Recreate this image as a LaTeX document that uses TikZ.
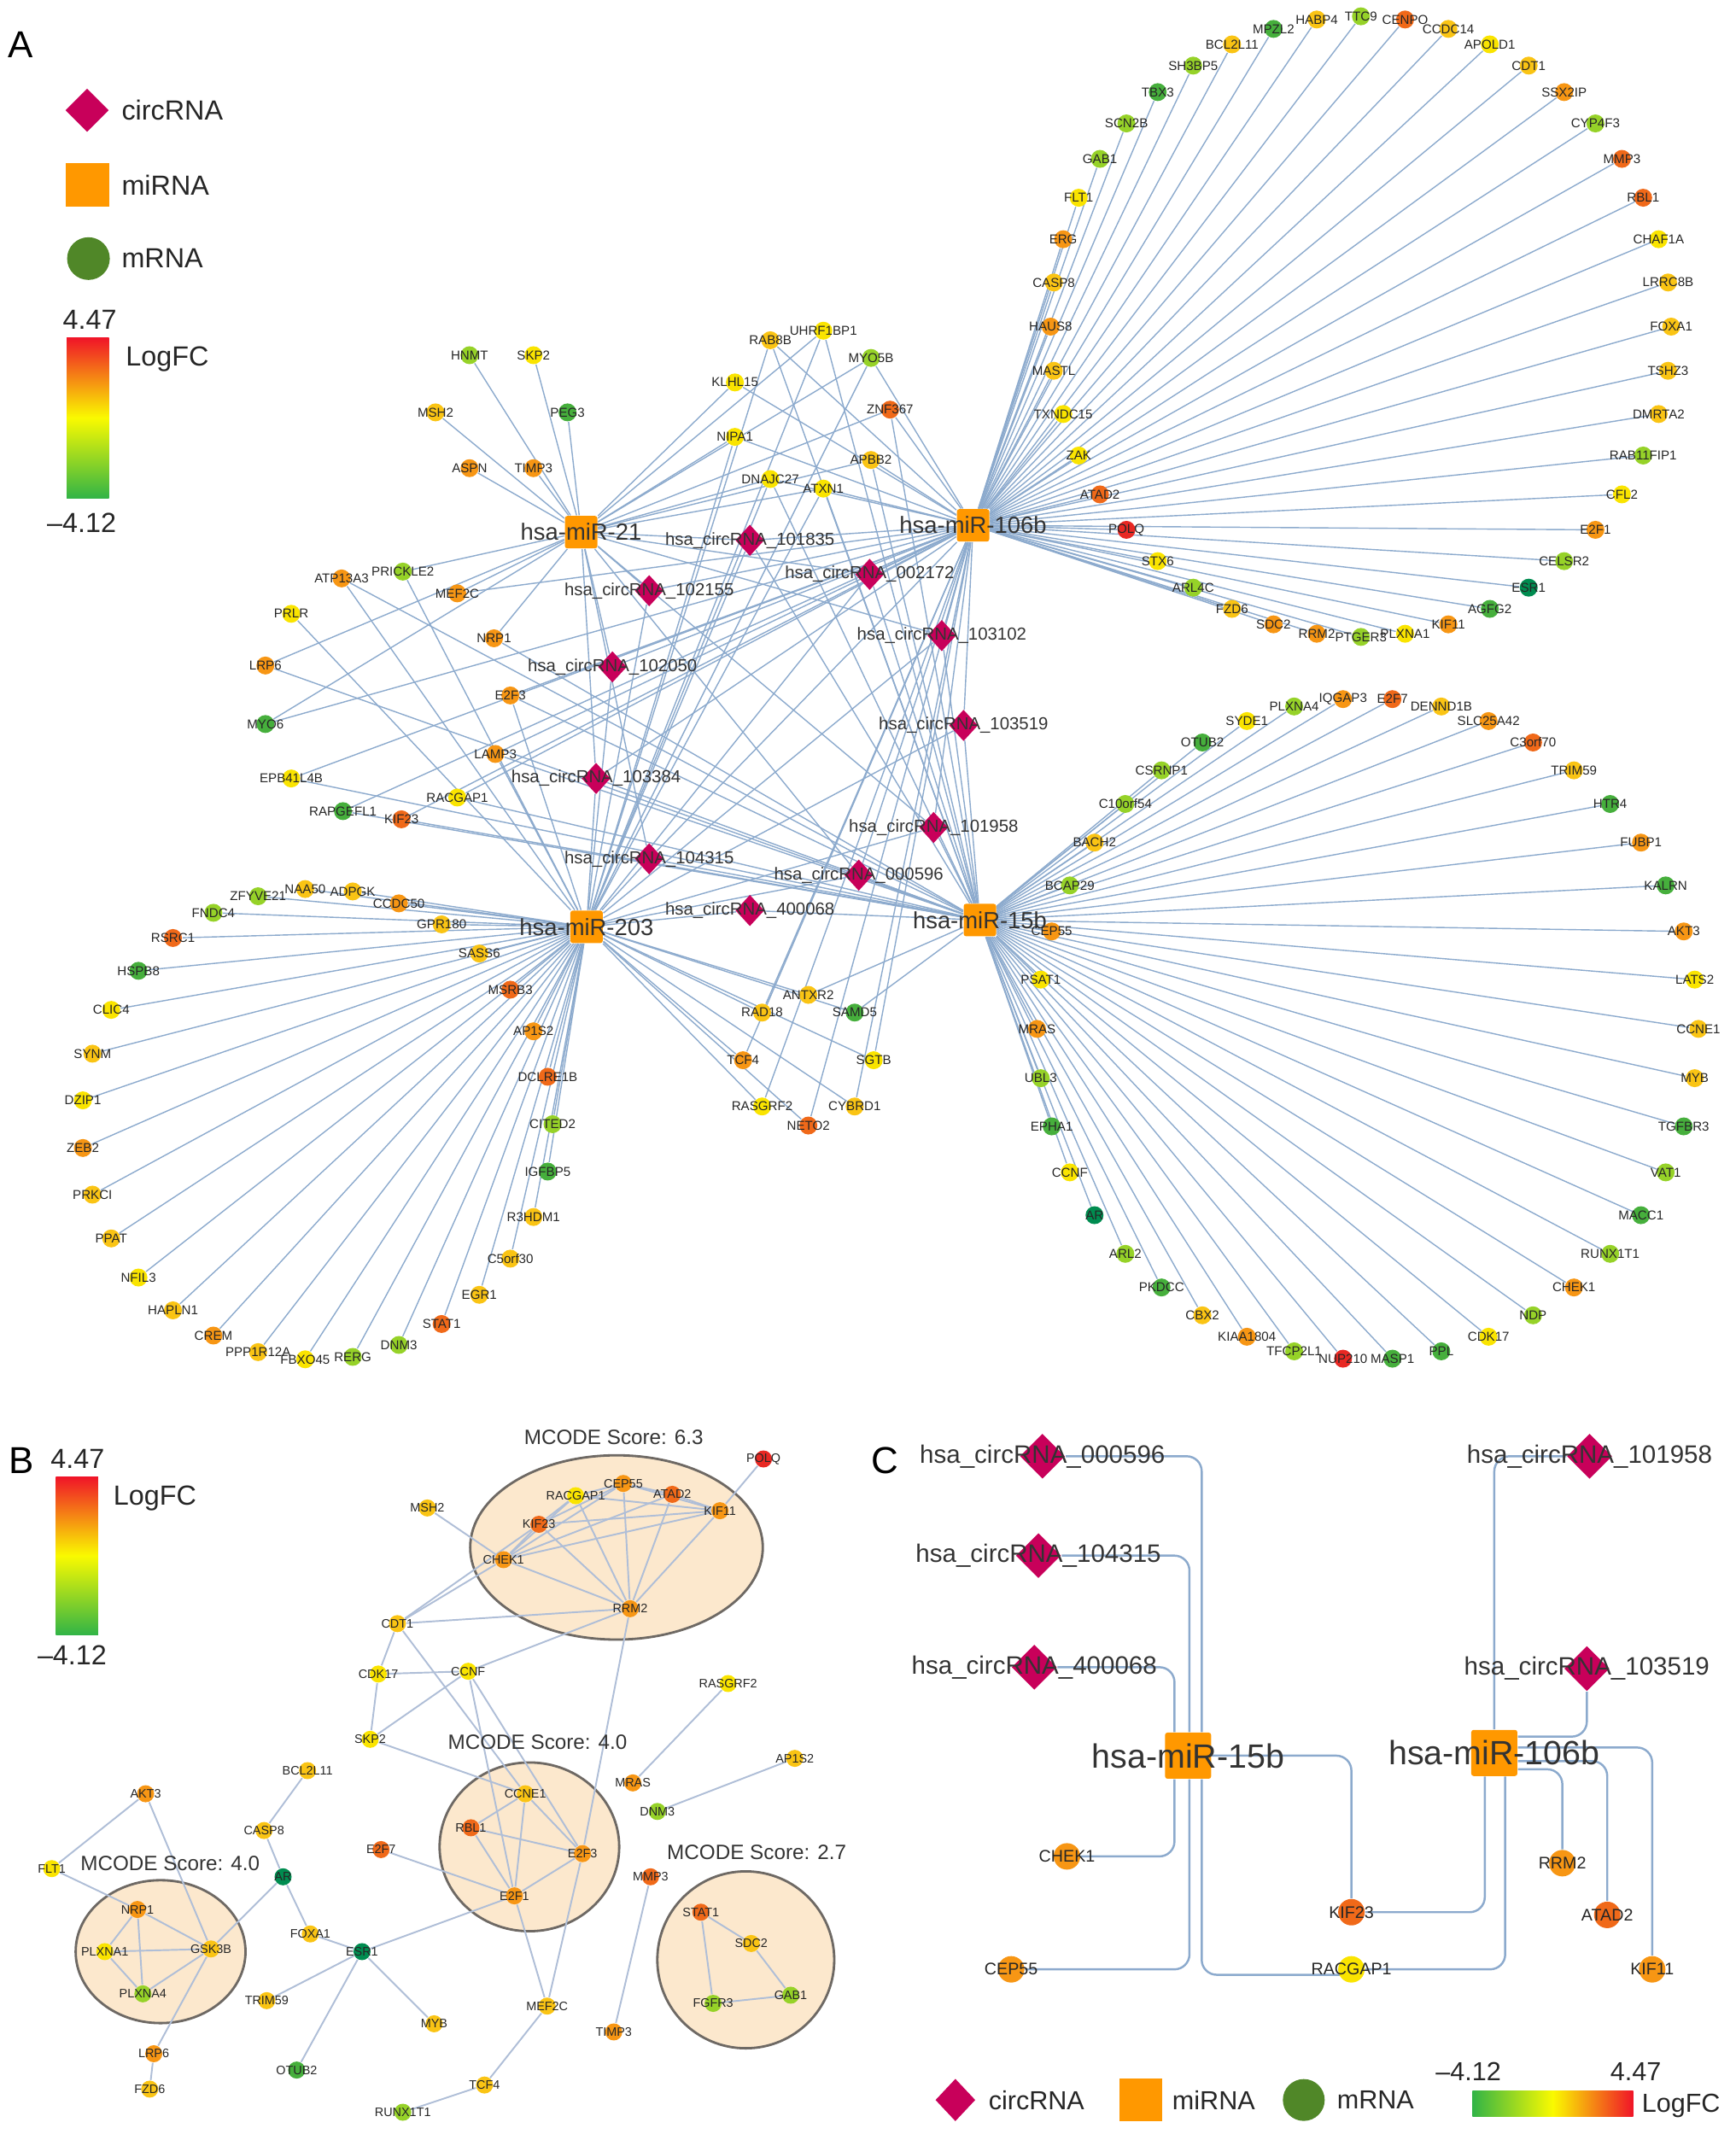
\documentclass[tikz,border=0pt]{standalone}
\usepackage{fontspec}
\setmainfont{Liberation Sans}
\usetikzlibrary{shapes.geometric,calc}
\pgfdeclarelayer{back}\pgfdeclarelayer{links}
\pgfsetlayers{back,links,main}
\definecolor{cD}{RGB}{0,140,80}
\definecolor{cG}{RGB}{70,175,60}
\definecolor{cL}{RGB}{150,210,40}
\definecolor{cY}{RGB}{250,228,0}
\definecolor{cA}{RGB}{250,196,20}
\definecolor{cO}{RGB}{247,150,20}
\definecolor{cT}{RGB}{240,105,25}
\definecolor{cR}{RGB}{232,40,35}
\definecolor{barR}{RGB}{240,20,40}
\definecolor{barY}{RGB}{250,250,0}
\definecolor{barG}{RGB}{50,180,70}
\definecolor{mircol}{RGB}{255,152,0}
\definecolor{circcol}{RGB}{200,0,90}
\definecolor{legcol}{RGB}{80,135,40}
\definecolor{edgecol}{RGB}{140,170,205}
\definecolor{pedgecol}{RGB}{175,190,215}
\definecolor{clustfill}{RGB}{252,232,205}
\definecolor{clustdraw}{RGB}{110,105,100}
\tikzset{
  netlink/.style={draw=edgecol, line width=0.4pt},
  ppilink/.style={draw=pedgecol, line width=0.55pt},
  clink/.style={draw=edgecol, line width=0.7pt, rounded corners=5pt},
  mrna/.style={circle, inner sep=0pt, minimum size=2.1mm},
  glab/.style={font=\fontsize{4.3}{5}\selectfont, text=black!85, inner sep=0pt},
  mirna/.style={rectangle, rounded corners=0.8pt, fill=mircol, inner sep=0pt, minimum size=3.8mm},
  circ/.style={diamond, fill=circcol, inner sep=0pt, minimum width=3.4mm, minimum height=3.7mm},
  hublab/.style={font=\fontsize{7.8}{9}\selectfont, text=black!80, inner sep=0pt},
  circlab/.style={font=\fontsize{5.8}{7}\selectfont, text=black!80, inner sep=0pt},
  panel/.style={font=\fontsize{12.5}{14}\selectfont, inner sep=0pt},
  legtext/.style={font=\fontsize{9.2}{11}\selectfont, text=black!85, inner sep=0pt},
  score/.style={font=\fontsize{6.9}{8}\selectfont, text=black!80, inner sep=0pt},
  cluster/.style={fill=clustfill, draw=clustdraw, line width=0.8pt},
  vbar/.style={top color=barR, bottom color=barG, middle color=barY},
  hbar/.style={left color=barG, right color=barR, middle color=barY},
}
\begin{document}
\begin{tikzpicture}[x=0.159375mm, y=-0.159375mm]
\useasboundingbox (0,0) rectangle (1275,1568);
% ---------------- panel A
\node[panel] at (15,33) {A};
\node[diamond, fill=circcol, inner sep=0pt, minimum size=5.1mm] (legAc) at (64,81) {};
\node[legtext, anchor=west] at (89,81) {circRNA};
\node[fill=mircol, inner sep=0pt, minimum size=5.1mm] (legAm) at (64,136) {};
\node[legtext, anchor=west] at (89,136) {miRNA};
\node[circle, fill=legcol, inner sep=0pt, minimum size=5mm] (legAg) at (65,190) {};
\node[legtext, anchor=west] at (89,190) {mRNA};
\shade[vbar] (49,248) rectangle (80,366);
\node[legtext] at (66,235) {4.47};
\node[legtext, anchor=west] at (92,264) {LogFC};
\node[legtext] at (60,384) {--4.12};

\node[mirna, label={[hublab]center:hsa-miR-21}] (m21) at (427,391) {};
\node[mirna, label={[hublab]center:hsa-miR-106b}] (m106b) at (715,386) {};
\node[mirna, label={[hublab]center:hsa-miR-203}] (m203) at (431,681) {};
\node[mirna, label={[hublab]center:hsa-miR-15b}] (m15b) at (720,676) {};

% rings of targets
\coordinate (o106b) at (1000,240);
\foreach \g/\c [count=\i from 0] in {TTC9/L,CENPO/T,CCDC14/A,APOLD1/Y,CDT1/A,SSX2IP/O,CYP4F3/L,MMP3/T,RBL1/T,CHAF1A/Y,LRRC8B/A,FOXA1/A,TSHZ3/A,DMRTA2/A,RAB11FIP1/L,CFL2/Y,E2F1/O,CELSR2/L,ESR1/D,AGFG2/G,KIF11/O,PLXNA1/Y,PTGER3/L,RRM2/O,SDC2/O,FZD6/A,ARL4C/L,STX6/Y,POLQ/R,ATAD2/T,ZAK/Y,TXNDC15/Y,MASTL/A,HAUS8/O,CASP8/A,ERG/O,FLT1/Y,GAB1/L,SCN2B/L,TBX3/G,SH3BP5/L,BCL2L11/A,MPZL2/G,HABP4/A}{
  \pgfmathsetmacro\ang{-90+\i*360/44}
  \node[mrna, fill=c\c, label={[glab]center:\g}] (a-\g) at ($(o106b)+(\ang:228)$) {};
  \begin{pgfonlayer}{links}\draw[netlink] (m106b) -- (a-\g);\end{pgfonlayer}
}
\coordinate (o15b) at (1005,756);
\foreach \g/\c [count=\i from 0] in {E2F7/T,DENND1B/A,SLC25A42/O,C3orf70/T,TRIM59/A,HTR4/G,FUBP1/O,KALRN/G,AKT3/O,LATS2/Y,CCNE1/A,MYB/A,TGFBR3/G,VAT1/L,MACC1/G,RUNX1T1/L,CHEK1/O,NDP/L,CDK17/Y,PPL/G,MASP1/G,NUP210/R,TFCP2L1/L,KIAA1804/O,CBX2/A,PKDCC/G,ARL2/L,AR/D,CCNF/Y,EPHA1/G,UBL3/L,MRAS/O,PSAT1/Y,CEP55/O,BCAP29/L,BACH2/A,C10orf54/L,CSRNP1/L,OTUB2/G,SYDE1/Y,PLXNA4/L,IQGAP3/O}{
  \pgfmathsetmacro\ang{-85.714+\i*360/42}
  \node[mrna, fill=c\c, label={[glab]center:\g}] (a-\g) at ($(o15b)+(\ang:243)$) {};
  \begin{pgfonlayer}{links}\draw[netlink] (m15b) -- (a-\g);\end{pgfonlayer}
}
\coordinate (o203) at (233,826);
\foreach \g/\c [count=\i from 0] in {CITED2/L,IGFBP5/G,R3HDM1/A,C5orf30/A,EGR1/A,STAT1/T,DNM3/L,RERG/L,FBXO45/Y,PPP1R12A/A,CREM/O,HAPLN1/A,NFIL3/Y,PPAT/A,PRKCI/A,ZEB2/O,DZIP1/Y,SYNM/A,CLIC4/Y,HSPB8/G,RSRC1/T,FNDC4/L,ZFYVE21/L,NAA50/A,ADPGK/A,CCDC50/O,GPR180/A,SASS6/A,MSRB3/T,AP1S2/O,DCLRE1B/T}{
  \pgfmathsetmacro\ang{\i*360/31}
  \node[mrna, fill=c\c, label={[glab]center:\g}] (a-\g) at ($(o203)+(\ang:173)$) {};
  \begin{pgfonlayer}{links}\draw[netlink] (m203) -- (a-\g);\end{pgfonlayer}
}

% shared targets in the middle
\foreach \g/\x/\y/\c in {HNMT/345/261/L,SKP2/392/261/Y,MSH2/320/303/A,PEG3/417/303/G,ASPN/345/344/O,TIMP3/392/344/O,
  RAB8B/566/250/A,UHRF1BP1/605/243/Y,MYO5B/640/263/L,KLHL15/540/281/Y,ZNF367/654/301/T,NIPA1/540/321/Y,APBB2/640/338/A,DNAJC27/566/352/Y,ATXN1/605/359/Y,
  ATP13A3/251/425/O,PRICKLE2/296/420/L,MEF2C/336/436/O,PRLR/214/451/Y,NRP1/363/469/O,LRP6/195/489/O,E2F3/375/511/O,MYO6/195/532/G,LAMP3/364/554/O,EPB41L4B/214/572/Y,RACGAP1/336/586/Y,RAPGEFL1/252/596/G,KIF23/295/602/T,
  ANTXR2/594/731/A,RAD18/560/744/A,SAMD5/628/744/G,TCF4/546/779/O,SGTB/642/779/Y,RASGRF2/560/813/Y,CYBRD1/628/813/A,NETO2/594/827/T}
  \node[mrna, fill=c\c, label={[glab]center:\g}] (a-\g) at (\x,\y) {};

\foreach \id/\x/\y in {101835/551/397,102155/477/434,002172/639/422,103102/692/467,102050/450/490,103519/708/533,103384/438/572,101958/686/608,104315/477/631,000596/631/643,400068/551/669}
  \node[circ, label={[circlab]center:hsa\_circRNA\_\id}] (c\id) at (\x,\y) {};

\begin{pgfonlayer}{links}
\foreach \h/\lst in {m21/{HNMT,SKP2,MSH2,PEG3,ASPN,TIMP3,KLHL15,NIPA1,MYO5B,ZNF367,APBB2,DNAJC27,UHRF1BP1,PRICKLE2,MEF2C,NRP1,LRP6,MYO6,ATXN1},
  m106b/{RAB8B,KLHL15,NIPA1,MYO5B,ZNF367,APBB2,DNAJC27,ATXN1,MEF2C,E2F3,LAMP3,MYO6,EPB41L4B,RACGAP1,RAPGEFL1,KIF23,RAD18,TCF4,RASGRF2,NETO2,CYBRD1,SGTB},
  m203/{RAB8B,UHRF1BP1,NIPA1,DNAJC27,ATXN1,PRICKLE2,PRLR,E2F3,LAMP3,ATP13A3,ANTXR2,RAD18,SAMD5,TCF4,SGTB,RASGRF2,NETO2,CYBRD1,MYO5B},
  m15b/{RAB8B,UHRF1BP1,ZNF367,APBB2,DNAJC27,ATXN1,ATP13A3,NRP1,LRP6,E2F3,LAMP3,EPB41L4B,RACGAP1,RAPGEFL1,KIF23,SAMD5,ANTXR2}}
  \foreach \g in \lst \draw[netlink] (\h) -- (a-\g);
\foreach \h/\lst in {m21/{101835,102155,002172,103102,102050,103384,101958,104315,000596},
  m106b/{101835,102155,002172,103102,102050,103519,103384,101958,104315,000596},
  m203/{101835,102155,002172,103102,102050,103519,103384,101958,104315,000596,400068},
  m15b/{101835,002172,103102,103519,103384,101958,104315,000596,400068}}
  \foreach \id in \lst \draw[netlink] (\h) -- (c\id);
\end{pgfonlayer}

% ---------------- panel B
\node[panel] at (16,1073) {B};
\shade[vbar] (41,1085) rectangle (72,1201);
\node[legtext] at (57,1072) {4.47};
\node[legtext, anchor=west] at (83,1101) {LogFC};
\node[legtext] at (53,1216) {--4.12};
\begin{pgfonlayer}{back}
\draw[cluster] (453,1137) ellipse [x radius=107.5, y radius=67.7];
\draw[cluster] (389,1357) ellipse [x radius=66, y radius=62];
\draw[cluster] (548,1440) ellipse [x radius=65, y radius=65];
\draw[cluster] (118,1434) ellipse [x radius=62.4, y radius=52.5];
\end{pgfonlayer}
\node[score] at (451,1056) {MCODE Score: 6.3};
\node[score] at (395,1280) {MCODE Score: 4.0};
\node[score] at (556,1361) {MCODE Score: 2.7};
\node[score] at (125,1369) {MCODE Score: 4.0};

\foreach \g/\x/\y/\c in {POLQ/561/1072/R,RACGAP1/423/1099/Y,CEP55/458/1090/O,ATAD2/494/1098/T,KIF11/529/1110/O,KIF23/396/1120/T,CHEK1/370/1146/O,RRM2/463/1182/O,
  MSH2/314/1108/A,CDT1/292/1193/A,CDK17/278/1230/Y,CCNF/344/1228/Y,SKP2/272/1278/Y,CCNE1/386/1318/A,RBL1/346/1343/T,E2F3/428/1362/O,E2F1/378/1393/O,E2F7/280/1359/T,
  RASGRF2/535/1237/Y,AP1S2/584/1292/A,MRAS/465/1310/O,DNM3/483/1331/L,MMP3/478/1379/T,STAT1/515/1405/T,SDC2/552/1428/A,FGFR3/524/1472/L,GAB1/581/1466/L,TIMP3/451/1493/O,
  MEF2C/402/1474/A,TCF4/356/1532/A,RUNX1T1/296/1552/L,MYB/319/1487/A,ESR1/266/1434/D,FOXA1/228/1421/A,AR/208/1379/D,CASP8/194/1345/A,BCL2L11/226/1301/A,TRIM59/196/1470/A,
  OTUB2/218/1521/G,AKT3/107/1318/O,FLT1/38/1373/Y,NRP1/101/1403/O,PLXNA1/77/1434/Y,GSK3B/155/1432/A,PLXNA4/105/1465/L,LRP6/113/1509/O,FZD6/110/1535/A}
  \node[mrna, minimum size=2mm, fill=c\c, label={[glab, font=\fontsize{4.1}{5}\selectfont]center:\g}] (b-\g) at (\x,\y) {};

\begin{pgfonlayer}{links}
\foreach \s/\t in {AKT3/FLT1,AKT3/GSK3B,FLT1/NRP1,NRP1/PLXNA1,NRP1/PLXNA4,NRP1/GSK3B,PLXNA1/GSK3B,PLXNA1/PLXNA4,PLXNA4/GSK3B,GSK3B/LRP6,LRP6/FZD6,GSK3B/AR,
  BCL2L11/CASP8,CASP8/AR,AR/FOXA1,FOXA1/ESR1,ESR1/TRIM59,ESR1/OTUB2,ESR1/MYB,ESR1/E2F1,TCF4/RUNX1T1,TCF4/MEF2C,MEF2C/E2F1,MEF2C/E2F3,
  CCNE1/RBL1,CCNE1/E2F1,CCNE1/E2F3,RBL1/E2F3,RBL1/E2F1,E2F3/E2F1,E2F7/E2F1,SKP2/CCNE1,CDT1/CDK17,CDK17/SKP2,CDK17/CCNF,SKP2/CCNF,CDT1/CCNE1,
  CCNF/E2F1,CCNF/E2F3,CCNF/RRM2,RRM2/E2F3,CDT1/CHEK1,CDT1/KIF23,CDT1/RRM2,MSH2/CHEK1,
  KIF23/RACGAP1,KIF23/CEP55,KIF23/KIF11,KIF23/CHEK1,KIF23/RRM2,CHEK1/RACGAP1,CHEK1/CEP55,CHEK1/KIF11,CHEK1/ATAD2,CHEK1/RRM2,RACGAP1/CEP55,RACGAP1/RRM2,
  RACGAP1/KIF11,CEP55/ATAD2,CEP55/KIF11,CEP55/RRM2,ATAD2/KIF11,ATAD2/RRM2,KIF11/RRM2,KIF11/POLQ,
  RASGRF2/MRAS,AP1S2/DNM3,MMP3/TIMP3,STAT1/SDC2,STAT1/FGFR3,SDC2/GAB1,FGFR3/GAB1}
  \draw[ppilink] (b-\s) -- (b-\t);
\end{pgfonlayer}

% ---------------- panel C
\node[panel] at (650,1073) {C};
\foreach \id/\x/\y in {000596/766/1070,104315/763/1143,400068/760/1225,101958/1168/1070,103519/1166/1226}
  \node[diamond, fill=circcol, inner sep=0pt, minimum size=5.3mm, label={[circlab, font=\fontsize{8.4}{10}\selectfont]center:hsa\_circRNA\_\id}] (cc\id) at (\x,\y) {};
\node[mirna, minimum size=5.4mm, label={[hublab, font=\fontsize{11.2}{13}\selectfont]center:hsa-miR-15b}] (cm15b) at (873,1290) {};
\node[mirna, minimum size=5.4mm, label={[hublab, font=\fontsize{11.2}{13}\selectfont]center:hsa-miR-106b}] (cm106b) at (1098,1288) {};
\foreach \g/\x/\y/\c in {CHEK1/784/1364/O,KIF23/993/1405/T,CEP55/743/1447/O,RACGAP1/993/1447/Y,RRM2/1148/1369/O,ATAD2/1181/1407/T,KIF11/1214/1447/O}
  \node[mrna, minimum size=3.1mm, fill=c\c, label={[glab, font=\fontsize{5.6}{7}\selectfont]center:\g}] (c-\g) at (\x,\y) {};

\begin{pgfonlayer}{links}
\draw[clink] (cc000596) -| ($(cm15b.north)+(10,0)$);
\draw[clink] (cc104315) -| ($(cm15b.north)+(1,0)$);
\draw[clink] (cc400068) -| ($(cm15b.north)+(-10,0)$);
\draw[clink] (cm15b) -| (c-KIF23);
\draw[clink] ($(cm15b.south)+(-10,0)$) |- (c-CHEK1);
\draw[clink] ($(cm15b.south)+(1,0)$) |- (c-CEP55);
\draw[clink] ($(cm15b.south)+(10,0)$) |- ($(c-RACGAP1)+(0,4)$);
\draw[clink] (cc101958) -| (cm106b);
\draw[clink] (cc103519) |- ($(cm106b.east)+(0,-12)$);
\draw[clink] ($(cm106b.east)+(0,-4)$) -| (c-KIF11);
\draw[clink] ($(cm106b.east)+(0,6)$) -| (c-ATAD2);
\draw[clink] ($(cm106b.east)+(0,12)$) -| (c-RRM2);
\draw[clink] ($(cm106b.south)+(-7,0)$) |- (c-KIF23);
\draw[clink] ($(cm106b.south)+(8,0)$) |- (c-RACGAP1);
\end{pgfonlayer}

% legend of C
\node[diamond, fill=circcol, inner sep=0pt, minimum width=4.7mm, minimum height=5mm] (legCc) at (702,1543) {};
\node[legtext, font=\fontsize{8.7}{10}\selectfont, anchor=west] at (726,1543) {circRNA};
\node[fill=mircol, inner sep=0pt, minimum size=5mm] (legCm) at (838,1543) {};
\node[legtext, font=\fontsize{8.7}{10}\selectfont, anchor=west] at (861,1543) {miRNA};
\node[circle, fill=legcol, inner sep=0pt, minimum size=4.9mm] (legCg) at (958,1543) {};
\node[legtext, font=\fontsize{8.7}{10}\selectfont, anchor=west] at (982,1543) {mRNA};
\shade[hbar] (1082,1536) rectangle (1200,1555);
\node[legtext, font=\fontsize{8.7}{10}\selectfont] at (1079,1522) {--4.12};
\node[legtext, font=\fontsize{8.7}{10}\selectfont] at (1202,1522) {4.47};
\node[legtext, font=\fontsize{8.7}{10}\selectfont, anchor=west] at (1206,1547) {LogFC};
\end{tikzpicture}
\end{document}
